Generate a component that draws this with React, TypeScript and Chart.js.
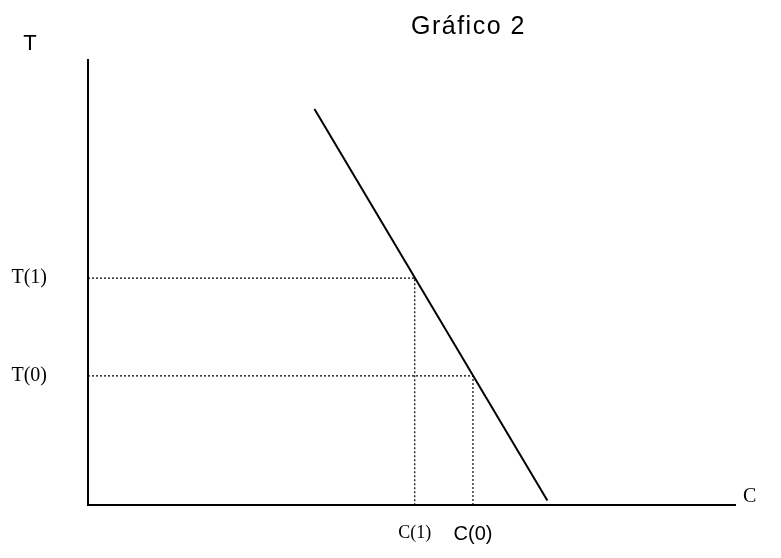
import React, { useEffect, useRef } from "react";
import { Chart, registerables } from "chart.js";

Chart.register(...registerables);

// Demand-like line (C on x, T on y), arbitrary units 0..100
const LINE_C = [35, 71];
const LINE_T = [89, 1];

// Reference points
const POINT_C = [50.5, 59.5]; // C(1), C(0)
const POINT_T = [51, 29]; // T(1), T(0)

const X_TICK_LABELS = ["C(1)", "C(0)"];
const Y_TICK_LABELS = ["T(1)", "T(0)"];
const TITLE = "Gráfico 2";
const Y_AXIS_NAME = "T";
const X_AXIS_NAME = "C";

const SANS = "'Liberation Sans', Arial, sans-serif";
const SERIF = "'Liberation Serif', 'Times New Roman', serif";

const textPlugin = {
  id: "textPlugin",
  afterDraw(chart: any) {
    const { ctx, chartArea, scales } = chart;
    ctx.save();
    ctx.fillStyle = "#000";
    ctx.textBaseline = "middle";
    // title
    ctx.font = `25px ${SANS}`;
    (ctx as any).letterSpacing = "1.5px";
    ctx.textAlign = "center";
    ctx.fillText(TITLE, scales.x.getPixelForValue(58.8), 27);
    (ctx as any).letterSpacing = "0px";
    // y axis name
    ctx.font = `22px ${SANS}`;
    ctx.fillText(Y_AXIS_NAME, 30, 44);
    // x axis name
    ctx.font = `20px ${SERIF}`;
    ctx.textAlign = "left";
    ctx.fillText(X_AXIS_NAME, chartArea.right + 8, chartArea.bottom - 8);
    ctx.restore();
  },
};

export default function App() {
  const ref = useRef<HTMLCanvasElement | null>(null);

  useEffect(() => {
    if (!ref.current) return;
    const dotted = {
      borderColor: "#000",
      borderWidth: 1.2,
      borderDash: [2, 2],
      pointRadius: 0,
      showLine: true,
      fill: false,
    };
    const chart = new Chart(ref.current, {
      type: "scatter",
      data: {
        datasets: [
          {
            data: LINE_C.map((c, i) => ({ x: c, y: LINE_T[i] })),
            borderColor: "#000",
            borderWidth: 2,
            pointRadius: 0,
            showLine: true,
            fill: false,
          },
          ...POINT_C.map((c, i) => ({
            ...dotted,
            data: [
              { x: 0, y: POINT_T[i] },
              { x: c, y: POINT_T[i] },
              { x: c, y: 0 },
            ],
          })),
        ],
      },
      options: {
        responsive: false,
        animation: false,
        layout: { padding: { top: 60, right: 46, left: 0, bottom: 0 } },
        plugins: {
          legend: { display: false },
          tooltip: { enabled: false },
          title: { display: false },
        },
        scales: {
          x: {
            type: "linear",
            position: "bottom",
            min: 0,
            max: 100,
            grid: { display: false, drawTicks: false },
            border: { display: true, color: "#000", width: 2 },
            afterBuildTicks: (scale: any) => {
              scale.ticks = POINT_C.map((v) => ({ value: v }));
            },
            afterFit: (scale: any) => {
              scale.height = 42;
            },
            ticks: {
              autoSkip: false,
              maxRotation: 0,
              padding: 17,
              color: "#000",
              callback: (_v: any, i: number) => X_TICK_LABELS[i],
              font: (ctx: any) =>
                ctx.index === 0
                  ? { family: SERIF, size: 18 }
                  : { family: SANS, size: 20 },
            },
          },
          y: {
            type: "linear",
            position: "left",
            min: 0,
            max: 100,
            grid: { display: false, drawTicks: false },
            border: { display: true, color: "#000", width: 2 },
            afterBuildTicks: (scale: any) => {
              scale.ticks = POINT_T.map((v) => ({ value: v }));
            },
            afterFit: (scale: any) => {
              scale.width = 88;
            },
            ticks: {
              autoSkip: false,
              padding: 41,
              color: "#000",
              callback: (_v: any, i: number) => Y_TICK_LABELS[i],
              font: { family: SERIF, size: 20 },
            },
          },
        },
      },
      plugins: [textPlugin],
    });
    return () => chart.destroy();
  }, []);

  return (
    <div
      style={{
        position: "fixed",
        left: 0,
        top: 0,
        width: 781,
        height: 558,
        background: "#fff",
      }}
    >
      <canvas ref={ref} width={781} height={558} />
    </div>
  );
}
